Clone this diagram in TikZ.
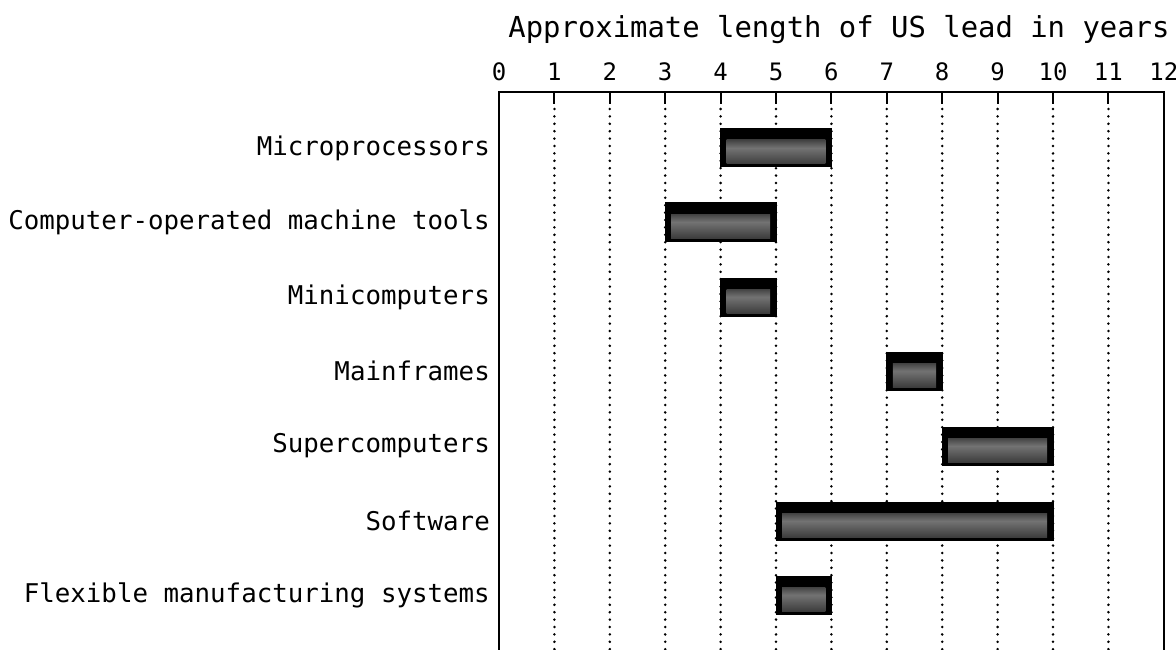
\documentclass[tikz,border=0pt]{standalone}
\usepackage{fontspec}
\setmainfont{DejaVu Sans Mono}
\begin{document}
\begin{tikzpicture}[x=1pt,y=-1pt,
  frame/.style={line width=2.2pt},
  tickline/.style={line width=2pt},
  gridline/.style={line width=2.8pt, line cap=round, dash pattern=on 0pt off 7.4pt},
  lab/.style={anchor=east, inner sep=0pt, font=\fontsize{25.8}{30}\selectfont},
  num/.style={inner sep=0pt, font=\fontsize{24}{28}\selectfont},
  ttl/.style={inner sep=0pt, font=\fontsize{28.9}{34}\selectfont},
  barbox/.style={draw=black, fill=black, line width=1pt, inner sep=0pt, minimum height=38pt,
    path picture={\shade[top color=black, bottom color=black!80, middle color=black!55]
      ([xshift=6pt,yshift=-11pt]path picture bounding box.north west) rectangle
      ([xshift=-6pt,yshift=3pt]path picture bounding box.south east);}}]
\useasboundingbox (0,0) rectangle (1176,650);
\def\xo{499}
\def\ux{55.4}
% title
\node[ttl] (title) at (839,30) {Approximate length of US lead in years};
% axis numbers
\foreach \i in {0,...,12} {
  \node[num] (n\i) at ({\xo+\ux*\i},72) {\i};
}
% grid lines
\foreach \i in {1,...,11} {
  \draw[tickline] ({\xo+\ux*\i},92) -- ({\xo+\ux*\i},104);
  \draw[gridline] ({\xo+\ux*\i},109) -- ({\xo+\ux*\i},650);
}
% frame
\draw[frame] (\xo,650) -- (\xo,92) -- ({\xo+\ux*12},92) -- ({\xo+\ux*12},650);
% bars and labels
\foreach \name/\a/\b/\y/\txt in {
  micro/4/6/148/Microprocessors,
  cnc/3/5/222/Computer-operated machine tools,
  mini/4/5/297/Minicomputers,
  main/7/8/371/Mainframes,
  super/8/10/446/Supercomputers,
  soft/5/10/521/Software,
  fms/5/6/595/Flexible manufacturing systems} {
  \node[lab] (l\name) at (490,\y) {\txt};
  \node[barbox, minimum width={\ux*(\b-\a)*1pt}] (b\name) at ({\xo+\ux*(\a+\b)/2},\y) {};
}
\end{tikzpicture}
\end{document}
